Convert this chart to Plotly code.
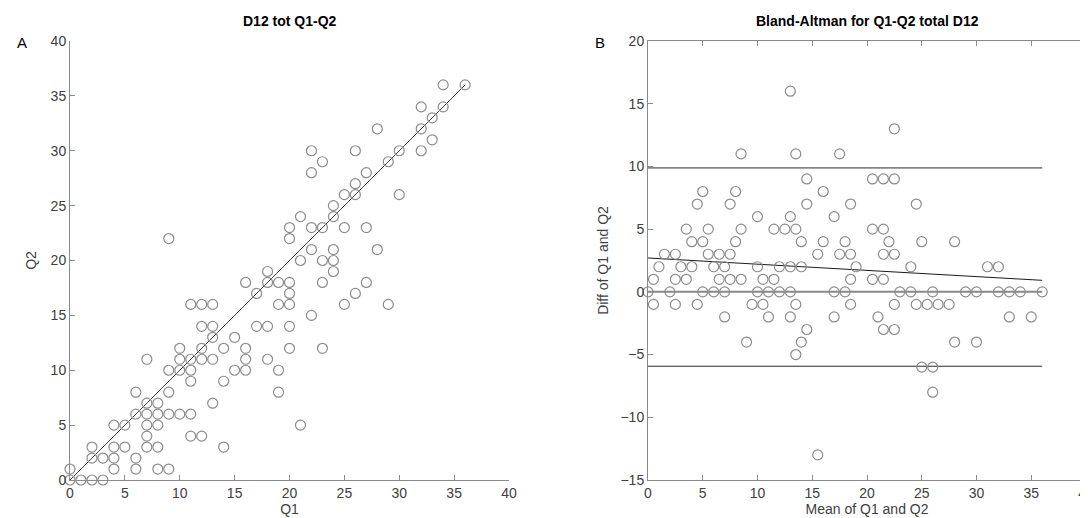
import numpy as np
import plotly.graph_objects as go

# ---- data (Q1, Q2 totals) ----
q1 = [0, 1, 2, 3,
      0, 4, 6, 8, 9,
      2, 3, 4, 6,
      2, 4, 5, 7, 8, 14,
      7, 11, 12,
      4, 5, 7, 8, 21,
      6, 7, 8, 9, 10, 11,
      7, 8, 13,
      6, 9, 19,
      11, 14,
      9, 10, 11, 15, 16, 19,
      7, 10, 11, 12, 13, 16, 18,
      10, 12, 14, 16, 20, 23,
      13, 15,
      12, 13, 17, 18, 20,
      22,
      11, 12, 13, 19, 20, 25, 29,
      17, 20, 26,
      16, 18, 19, 20, 23, 27,
      18, 24,
      21, 23, 24,
      22, 24, 28,
      9, 20,
      20, 22, 23, 25, 27,
      21, 24,
      24,
      25, 26, 30,
      26,
      22, 27,
      23, 29,
      22, 26, 30, 32,
      33,
      28, 32,
      33,
      32, 34,
      34, 36]
q2 = [0, 0, 0, 0,
      1, 1, 1, 1, 1,
      2, 2, 2, 2,
      3, 3, 3, 3, 3, 3,
      4, 4, 4,
      5, 5, 5, 5, 5,
      6, 6, 6, 6, 6, 6,
      7, 7, 7,
      8, 8, 8,
      9, 9,
      10, 10, 10, 10, 10, 10,
      11, 11, 11, 11, 11, 11, 11,
      12, 12, 12, 12, 12, 12,
      13, 13,
      14, 14, 14, 14, 14,
      15,
      16, 16, 16, 16, 16, 16, 16,
      17, 17, 17,
      18, 18, 18, 18, 18, 18,
      19, 19,
      20, 20, 20,
      21, 21, 21,
      22, 22,
      23, 23, 23, 23, 23,
      24, 24,
      25,
      26, 26, 26,
      27,
      28, 28,
      29, 29,
      30, 30, 30, 30,
      31,
      32, 32,
      33,
      34, 34,
      36, 36]

# Bland-Altman reference lines
upper_limit = 9.88
lower_limit = -5.93
trend_start = 2.70   # sloped line value at mean = 0
trend_end = 0.92     # sloped line value at max mean

x_ticks = [0, 5, 10, 15, 20, 25, 30, 35, 40]
y_ticks_a = [0, 5, 10, 15, 20, 25, 30, 35, 40]
y_ticks_b = [-15, -10, -5, 0, 5, 10, 15, 20]

q1a = np.array(q1, dtype=float)
q2a = np.array(q2, dtype=float)
mean_q = (q1a + q2a) / 2
diff_q = q1a - q2a
qmax = float(max(q1a.max(), q2a.max()))
mmax = float(mean_q.max())

AXC = "#8a8a8a"
TXC = "#404040"
MK = "#8c8c8c"
FONT = "Liberation Sans, Arial, sans-serif"

fig = go.Figure()

# Panel A: identity line + scatter
fig.add_trace(go.Scatter(x=[0, qmax], y=[0, qmax], mode="lines",
                         line=dict(color="#404040", width=1),
                         xaxis="x", yaxis="y", showlegend=False, hoverinfo="skip"))
fig.add_trace(go.Scatter(x=q1a, y=q2a, mode="markers",
                         marker=dict(symbol="circle-open", size=10, color=MK,
                                     line=dict(width=1.2, color=MK)),
                         cliponaxis=False, xaxis="x", yaxis="y", showlegend=False))

# Panel B: Bland-Altman
fig.add_trace(go.Scatter(x=[0, mmax], y=[0, 0], mode="lines",
                         line=dict(color="#888888", width=2),
                         xaxis="x2", yaxis="y2", showlegend=False, hoverinfo="skip"))
for val in (upper_limit, lower_limit):
    fig.add_trace(go.Scatter(x=[0, mmax], y=[val, val], mode="lines",
                             line=dict(color="#2a2a2a", width=1),
                             xaxis="x2", yaxis="y2", showlegend=False, hoverinfo="skip"))
fig.add_trace(go.Scatter(x=[0, mmax], y=[trend_start, trend_end], mode="lines",
                         line=dict(color="#1a1a1a", width=1),
                         xaxis="x2", yaxis="y2", showlegend=False, hoverinfo="skip"))
fig.add_trace(go.Scatter(x=mean_q, y=diff_q, mode="markers",
                         marker=dict(symbol="circle-open", size=10, color=MK,
                                     line=dict(width=1.2, color=MK)),
                         cliponaxis=False, xaxis="x2", yaxis="y2", showlegend=False))

ax_common = dict(showline=True, linecolor=AXC, linewidth=1, ticks="inside",
                 ticklen=5, tickcolor=AXC, showgrid=False, zeroline=False,
                 automargin=False,
                 tickfont=dict(family=FONT, size=14, color=TXC),
                 title_font=dict(family=FONT, size=14, color=TXC))

fig.update_layout(
    width=1088, height=518,
    margin=dict(l=62, r=10, t=33, b=46),
    paper_bgcolor="white", plot_bgcolor="white",
    font=dict(family=FONT, size=14, color=TXC),
    xaxis=dict(domain=[0, 0.4321], range=[0, 40], tickvals=x_ticks, anchor="y",
               title=dict(text="Q1", standoff=2), **ax_common),
    yaxis=dict(domain=[0, 1], range=[0, 40], tickvals=y_ticks_a, anchor="x",
               title=dict(text="Q2", standoff=10), **ax_common),
    xaxis2=dict(domain=[0.5689, 1.0], range=[0, 40], tickvals=x_ticks, anchor="y2",
                mirror="ticks", title=dict(text="Mean of Q1 and Q2", standoff=2), **ax_common),
    yaxis2=dict(domain=[0, 1], range=[-15, 20], tickvals=y_ticks_b, anchor="x2",
                mirror="ticks", title=dict(text="Diff of Q1 and Q2", standoff=8), **ax_common),
    annotations=[
        dict(text="<b>D12 tot Q1-Q2</b>", xref="x domain", yref="paper", x=0.5, y=1,
             yanchor="middle", yshift=20, showarrow=False,
             font=dict(family=FONT, size=14, color="#000000")),
        dict(text="<b>Bland-Altman for Q1-Q2 total D12</b>", xref="x2 domain", yref="paper",
             x=0.5, y=1, yanchor="middle", yshift=20, showarrow=False,
             font=dict(family=FONT, size=14, color="#000000")),
        dict(text="A", xref="paper", yref="paper", x=-0.047, y=1, xanchor="center",
             yanchor="middle", yshift=-1, showarrow=False,
             font=dict(family=FONT, size=15, color="#000000")),
        dict(text="B", xref="paper", yref="paper", x=0.5217, y=1, xanchor="center",
             yanchor="middle", yshift=-1, showarrow=False,
             font=dict(family=FONT, size=15, color="#000000")),
    ],
)

fig.write_html("out.html")
